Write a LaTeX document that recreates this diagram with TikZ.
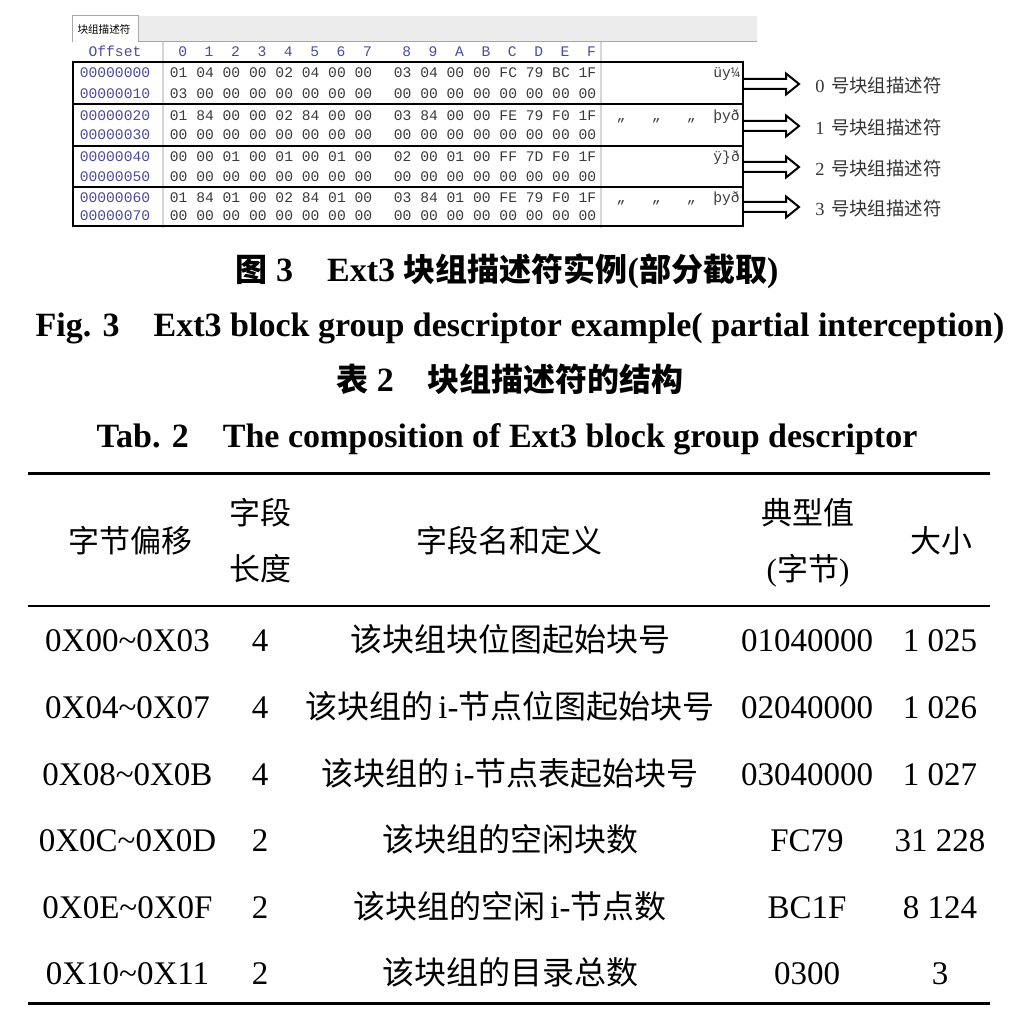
\documentclass[tikz,border=0pt]{standalone}
\usepackage{fontspec}
\setmainfont{Liberation Serif}
\newfontfamily\cjk{Noto Sans CJK SC}
\newfontfamily\cjkb{Noto Sans CJK SC Bold}
\newfontfamily\hexf{Liberation Mono}
\usetikzlibrary{calc}
\definecolor{hexgray}{HTML}{3A3A3A}
\definecolor{offblue}{HTML}{4B4B9B}
\definecolor{bargray}{HTML}{ECECEC}
\definecolor{linegray}{HTML}{A8A8A8}
\definecolor{sepgray}{HTML}{D6D6D6}
\definecolor{lblgray}{HTML}{333333}
\newcommand{\cbz}[1]{{\cjkb\fontsize{16}{20}\selectfont #1}}
\newcommand{\ctz}[1]{{\cjk\fontsize{16}{20}\selectfont #1}}
\begin{document}
\begin{tikzpicture}[x=0.5pt,y=-0.5pt,
  hexn/.style={font=\hexf\fontsize{7.33}{8}\selectfont, inner sep=0pt, anchor=base west, text=hexgray},
  offn/.style={font=\hexf\fontsize{7.33}{8}\selectfont, inner sep=0pt, anchor=base, text=offblue},
  lbl/.style={font=\fontsize{9.2}{10}\selectfont, text=lblgray, inner sep=0pt, anchor=base west},
  capb/.style={font=\bfseries\fontsize{17}{20}\selectfont, inner sep=0pt, anchor=base},
  tb/.style={font=\fontsize{16.5}{20}\selectfont, inner sep=0pt, anchor=base},
  th/.style={font=\cjk\fontsize{15.5}{18}\selectfont, inner sep=0pt, anchor=base},
  blockarrow/.style={draw=black, line width=1pt, fill=white, line join=miter}]
\useasboundingbox (0,0) rectangle (1014,1020);

% ---------- hex editor pane ----------
\fill[bargray] (138,16) rectangle (757,42);
\draw[linegray, line width=0.5pt] (138,42) -- (757,42);
\draw[linegray, line width=0.5pt, fill=white] (72,42) -- (72,16) -- (138,16) -- (138,42);
\node[font=\cjk\fontsize{5.3}{6}\selectfont, inner sep=0pt] (tab) at (104,29) {块组描述符};

\draw[sepgray, line width=0.6pt] (163,42) -- (163,228);
\draw[sepgray, line width=0.6pt] (601,42) -- (601,228);

\node[offn] (offh) at (115,56.8) {Offset};
\foreach \c [count=\n from 0] in {0,1,2,3,4,5,6,7}
  \node[offn] (ch\n) at ({169.5+(3*\n+1.5)*8.8},56.8) {\c};
\foreach \c [count=\n from 0] in {8,9,A,B,C,D,E,F}
  \node[offn] (chb\n) at ({393.5+(3*\n+1.5)*8.8},56.8) {\c};

\foreach \i/\yy/\o/\a/\b in {
 0/73/00000000/{01 04 00 00 02 04 00 00}/{03 04 00 00 FC 79 BC 1F},
 1/94/00000010/{03 00 00 00 00 00 00 00}/{00 00 00 00 00 00 00 00},
 2/116/00000020/{01 84 00 00 02 84 00 00}/{03 84 00 00 FE 79 F0 1F},
 3/135/00000030/{00 00 00 00 00 00 00 00}/{00 00 00 00 00 00 00 00},
 4/157/00000040/{00 00 01 00 01 00 01 00}/{02 00 01 00 FF 7D F0 1F},
 5/177/00000050/{00 00 00 00 00 00 00 00}/{00 00 00 00 00 00 00 00},
 6/198/00000060/{01 84 01 00 02 84 01 00}/{03 84 01 00 FE 79 F0 1F},
 7/216/00000070/{00 00 00 00 00 00 00 00}/{00 00 00 00 00 00 00 00}}{
  \node[offn] (o\i) at (115,\yy+4.8) {\o};
  \node[hexn] (ha\i) at (169.5,\yy+4.8) {\a};
  \node[hexn] (hb\i) at (393.5,\yy+4.8) {\b};
}
\node[hexn] (asc0) at (713,77.8) {üy¼};
\node[hexn] (asc2) at (607.4,120.8) {~„~~~„~~~„~~þyð};
\node[hexn] (asc4) at (713,161.8) {ÿ\}ð};
\node[hexn] (asc6) at (607.4,202.8) {~„~~~„~~~„~~þyð};

% arrows and labels
\foreach \k/\yy in {0/84,1/126,2/167,3/207}{
  \coordinate (s\k) at (743,\yy);
  \draw[blockarrow] ($(s\k)+(0,-5)$) -- ++(43,0) -- ++(0,-5.5) -- ($(s\k)+(56,0)$)
     -- ($(s\k)+(43,10.5)$) -- ++(0,-5.5) -- ($(s\k)+(0,5)$);
  \node[lbl] (l\k) at (815,\yy+9) {\k\hspace{0.35em}{\cjk 号块组描述符}};
}

% group boxes
\draw[line width=1pt] (73,62) rectangle (743,104);
\draw[line width=1pt] (73,104) rectangle (743,146);
\draw[line width=1pt] (73,146) rectangle (743,187);
\draw[line width=1pt] (73,187) rectangle (743,226);

% ---------- captions ----------
\node[capb] (cap1) at (507,282) {\cbz{图}\hspace{0.25em}3\hspace{1em}Ext3\hspace{0.25em}\cbz{块组描述符实例}(\cbz{部分截取})};
\node[capb] (cap2) at (520,337) {Fig. 3\hspace{1em}Ext3 block group descriptor example( partial interception)};
\node[capb] (cap3) at (510,392) {\cbz{表}\hspace{0.25em}2\hspace{1em}\cbz{块组描述符的结构}};
\node[capb] (cap4) at (507,447) {Tab. 2\hspace{1em}The composition of Ext3 block group descriptor};

% ---------- table ----------
\draw[line width=1.5pt] (28,473) -- (990,473);
\draw[line width=0.75pt] (28,606) -- (990,606);
\draw[line width=1.5pt] (28,1003) -- (990,1003);

\node[th] (h1) at (130,552) {字节偏移};
\node[th] (h2a) at (260,524) {字段};
\node[th] (h2b) at (260,580) {长度};
\node[th] (h3) at (509,552) {字段名和定义};
\node[th] (h4a) at (808,524) {典型值};
\node[th] (h4b) at (808,580) {{\rmfamily(}字节{\rmfamily)}};
\node[th] (h5) at (941,552) {大小};

\foreach \r/\yy/\ca/\cb/\cc/\cd/\ce in {
 1/651/{0X00\textasciitilde 0X03}/4/{\ctz{该块组块位图起始块号}}/01040000/{1 025},
 2/718/{0X04\textasciitilde 0X07}/4/{\ctz{该块组的}\hspace{0.15em}i-\ctz{节点位图起始块号}}/02040000/{1 026},
 3/785/{0X08\textasciitilde 0X0B}/4/{\ctz{该块组的}\hspace{0.15em}i-\ctz{节点表起始块号}}/03040000/{1 027},
 4/851/{0X0C\textasciitilde 0X0D}/2/{\ctz{该块组的空闲块数}}/FC79/{31 228},
 5/918/{0X0E\textasciitilde 0X0F}/2/{\ctz{该块组的空闲}\hspace{0.15em}i-\ctz{节点数}}/BC1F/{8 124},
 6/984/{0X10\textasciitilde 0X11}/2/{\ctz{该块组的目录总数}}/0300/3}{
  \node[tb] (r\r a) at (127.5,\yy) {\ca};
  \node[tb] (r\r b) at (260,\yy) {\cb};
  \node[tb] (r\r c) at (510,\yy) {\cc};
  \node[tb] (r\r d) at (807,\yy) {\cd};
  \node[tb] (r\r e) at (940,\yy) {\ce};
}
\end{tikzpicture}
\end{document}
